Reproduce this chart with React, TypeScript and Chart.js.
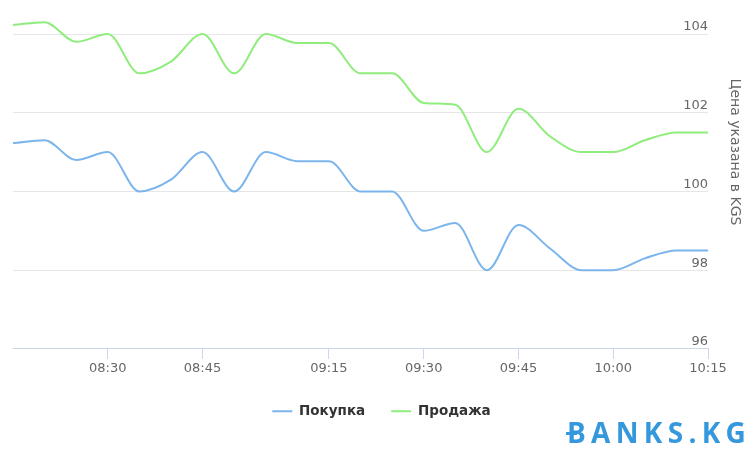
import React, { useEffect, useRef } from "react";
import { Chart, registerables } from "chart.js";

Chart.register(...registerables);

const timeLabels = [
  "08:15", "08:20", "08:25", "08:30", "08:35", "08:40", "08:45", "08:50",
  "08:55", "09:10", "09:15", "09:20", "09:25", "09:30", "09:35", "09:40",
  "09:45", "09:50", "09:55", "10:00", "10:05", "10:10", "10:15",
];
const shownTicks = ["08:30", "08:45", "09:15", "09:30", "09:45", "10:00", "10:15"];

const buyValues = [
  101.23, 101.3, 100.8, 101.0, 100.0, 100.3, 101.0, 100.0, 101.0, 100.77,
  100.77, 100.0, 100.0, 99.0, 99.2, 98.0, 99.15, 98.55, 98.0, 98.0, 98.3,
  98.5, 98.5,
];
const sellValues = [
  104.23, 104.3, 103.8, 104.0, 103.0, 103.3, 104.0, 103.0, 104.0, 103.77,
  103.77, 103.0, 103.0, 102.25, 102.2, 101.0, 102.1, 101.4, 101.0, 101.0,
  101.3, 101.5, 101.5,
];

const seriesNames = ["Покупка", "Продажа"];
const yAxisTitle = "Цена указана в KGS";
const yMin = 96;
const yMax = 104;
const yStep = 2;

const FONT = "'DejaVu Sans', sans-serif";

const yTitlePlugin = {
  id: "yTitlePlugin",
  afterDraw(chart: any) {
    const ctx = chart.ctx;
    ctx.save();
    ctx.translate(735, 152);
    ctx.rotate(Math.PI / 2);
    ctx.fillStyle = "#666666";
    ctx.font = `14px ${FONT}`;
    ctx.textAlign = "center";
    ctx.textBaseline = "middle";
    ctx.fillText(yAxisTitle, 0, 0);
    ctx.restore();
  },
};

export default function App() {
  const canvasRef = useRef<HTMLCanvasElement | null>(null);

  useEffect(() => {
    if (!canvasRef.current) return;
    const chart = new Chart(canvasRef.current, {
      type: "line",
      data: {
        labels: timeLabels,
        datasets: [
          {
            label: seriesNames[0],
            data: buyValues,
            borderColor: "#7cb5ec",
            backgroundColor: "#7cb5ec",
            borderWidth: 2,
            pointRadius: 0,
            cubicInterpolationMode: "monotone",
            clip: false as any,
          },
          {
            label: seriesNames[1],
            data: sellValues,
            borderColor: "#90ed7d",
            backgroundColor: "#90ed7d",
            borderWidth: 2,
            pointRadius: 0,
            cubicInterpolationMode: "monotone",
            clip: false as any,
          },
        ],
      },
      options: {
        responsive: false,
        animation: false,
        layout: { padding: { left: 13, right: 0, top: 34, bottom: 22 } },
        plugins: {
          tooltip: { enabled: false },
          legend: {
            position: "bottom",
            labels: {
              usePointStyle: true,
              pointStyle: "line",
              pointStyleWidth: 20,
              boxHeight: 13,
              padding: 26,
              color: "#333333",
              font: { family: FONT, size: 13.5, weight: "bold" },
            },
          },
        },
        scales: {
          x: {
            type: "category",
            offset: false,
            grid: {
              drawOnChartArea: false,
              drawTicks: true,
              tickLength: 10,
              color: (c: any) =>
                shownTicks.includes(timeLabels[c.index]) ? "#ccd6eb" : "rgba(0,0,0,0)",
            },
            border: { display: true, color: "#ccd6eb", width: 1 },
            ticks: {
              autoSkip: false,
              maxRotation: 0,
              minRotation: 0,
              padding: 2,
              color: "#666666",
              font: { family: FONT, size: 13 },
              callback: (_v: any, i: number) =>
                shownTicks.includes(timeLabels[i]) ? timeLabels[i] : "",
            },
          },
          y: {
            position: "right",
            min: yMin,
            max: yMax,
            afterFit: (scale: any) => {
              scale.width = 42;
            },
            grid: { color: "#e6e6e6", drawTicks: false },
            border: { display: false },
            ticks: {
              stepSize: yStep,
              mirror: true,
              padding: 0,
              labelOffset: -7,
              color: "#666666",
              font: { family: FONT, size: 13 },
            },
          },
        },
      },
      plugins: [yTitlePlugin],
    });
    return () => chart.destroy();
  }, []);

  return (
    <div
      style={{
        position: "absolute",
        left: 0,
        top: 0,
        width: 750,
        height: 450,
        background: "#ffffff",
      }}
    >
      <canvas ref={canvasRef} width={750} height={450} />
      <div
        style={{
          position: "absolute",
          left: 567,
          top: 414,
          fontFamily: "'Open Sans', sans-serif",
          fontWeight: 700,
          fontSize: 28,
          letterSpacing: 5.3,
          color: "#3598dc",
          lineHeight: "36px",
          whiteSpace: "nowrap",
        }}
      >
        BANKS.KG
      </div>
      <div
        style={{
          position: "absolute",
          left: 566,
          top: 432,
          width: 11,
          height: 3,
          background: "#3598dc",
        }}
      />
    </div>
  );
}
